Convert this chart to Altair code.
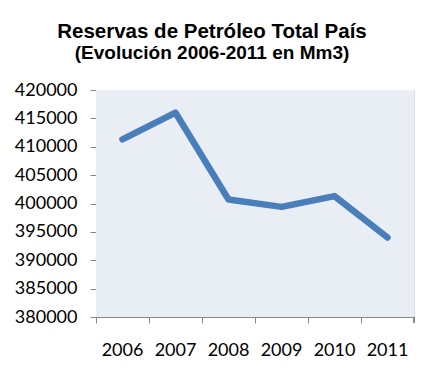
import altair as alt
import pandas as pd

years = ["2006", "2007", "2008", "2009", "2010", "2011"]
reservas = [411300, 416000, 400700, 399400, 401300, 394000]
y_ticks = [380000, 385000, 390000, 395000, 400000, 405000, 410000, 415000, 420000]
title_lines = ["Reservas de Petróleo Total País", "(Evolución 2006-2011 en Mm3)"]
title_sizes = [20.5, 19]

df = pd.DataFrame({"year": years, "value": reservas})
tdf = pd.DataFrame({"t": title_lines, "i": [0, 1], "s": title_sizes})

W, H = 318, 227
AX = "#868686"

base = alt.Chart(df)

bg = base.mark_rect(color="#E9EDF4").encode(
    x=alt.value(0), x2=alt.value(W), y=alt.value(0), y2=alt.value(H)
)

line = base.mark_line(color="#4A7EBB", strokeWidth=6.5, strokeCap="round", strokeJoin="round").encode(
    x=alt.X(
        "year:O",
        sort=years,
        title=None,
        scale=alt.Scale(type="band", paddingInner=0, paddingOuter=0),
        axis=alt.Axis(
            bandPosition=0,
            labelAngle=0,
            labelFont="Lato",
            labelFontSize=18,
            labelColor="#000000",
            labelPadding=18,
            tickSize=6,
            tickColor=AX,
            domainColor=AX,
            ticks=True,
        ),
    ),
    y=alt.Y(
        "value:Q",
        title=None,
        scale=alt.Scale(domain=[380000, 420000], nice=False, zero=False),
        axis=alt.Axis(
            values=y_ticks,
            format="d",
            labelFont="Lato",
            labelFontSize=18,
            labelColor="#000000",
            labelPadding=13,
            tickSize=6,
            tickColor=AX,
            domainColor=AX,
            grid=False,
        ),
    ),
)

# last x tick at right edge of the plot area
end_tick = base.mark_rule(color=AX, strokeWidth=1).encode(
    x=alt.value(W), y=alt.value(H), y2=alt.value(H + 6)
)

title = alt.Chart(tdf).mark_text(
    font="Liberation Sans", fontWeight="bold", color="#000000",
    align="center", baseline="alphabetic"
).encode(
    text="t:N",
    size=alt.Size("s:Q", scale=None, legend=None),
    x=alt.value(116),
    y=alt.Y("i:Q", scale=alt.Scale(domain=[0, 1], range=[-52, -31]), axis=None),
)

chart = (
    alt.layer(bg, line, end_tick, title)
    .resolve_scale(y="independent")
    .properties(
        width=W,
        height=H,
        autosize=alt.AutoSizeParams(type="none"),
        padding={"left": 88, "top": 82, "right": 2, "bottom": 50},
    )
    .configure_view(fill="#E9EDF4", stroke=None)
    .configure(background="#FFFFFF")
)

chart.save("out.html", embed_options={"renderer": "svg", "actions": False})
